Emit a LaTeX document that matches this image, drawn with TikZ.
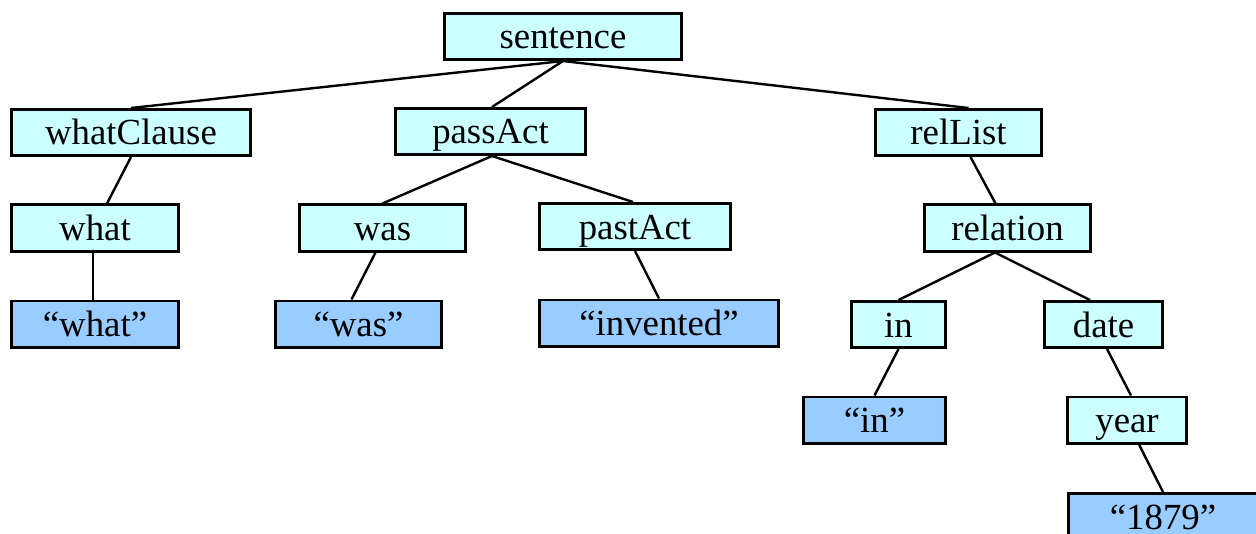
\documentclass[tikz,border=0pt]{standalone}
\usepackage{fontspec}
\setmainfont{Liberation Serif}
\begin{document}
\begin{tikzpicture}[x=0.5pt,y=-0.5pt,
  tbox/.style={draw=black, line width=1.4pt, rectangle, inner sep=0pt,
    minimum height=23.1pt, text height=12.5pt, text depth=0pt,
    font=\fontsize{18.4}{22}\selectfont},
  ntbox/.style={tbox, fill=cyanlight},
  lfbox/.style={tbox, fill=bluelight},
  edge/.style={draw=black, line width=1.2pt}]
\definecolor{cyanlight}{HTML}{CCFFFF}
\definecolor{bluelight}{HTML}{99CCFF}
\clip (0,0) rectangle (1256,534);
\useasboundingbox (0,0) rectangle (1256,534);
\fill[white] (0,0) rectangle (1256,534);
% nodes
\node[ntbox, minimum width=118.6pt] (sentence) at (563,36.5) {sentence};
\node[ntbox, minimum width=119.6pt] (whatClause) at (131,132.5) {whatClause};
\node[ntbox, minimum width=95.1pt] (passAct) at (490.5,131.5) {passAct};
\node[ntbox, minimum width=83.1pt] (relList) at (958.5,132.5) {relList};
\node[ntbox, minimum width=83.6pt] (what) at (95,228) {what};
\node[ntbox, minimum width=83.1pt] (was) at (382.5,228) {was};
\node[ntbox, minimum width=95.6pt] (pastAct) at (635,226.5) {pastAct};
\node[ntbox, minimum width=83.1pt] (relation) at (1007.5,228) {relation};
\node[lfbox, minimum width=83.6pt] (qwhat) at (95,324) {``what''};
\node[lfbox, minimum width=83.1pt] (qwas) at (358.5,324) {``was''};
\node[lfbox, minimum width=119.6pt] (qinvented) at (659,323) {``invented''};
\node[ntbox, minimum width=47.1pt] (in) at (898.5,324.5) {in};
\node[ntbox, minimum width=59.1pt] (date) at (1103.5,324.5) {date};
\node[lfbox, minimum width=71.1pt] (qin) at (874.5,420) {``in''};
\node[ntbox, minimum width=59.6pt] (year) at (1127,420) {year};
\node[lfbox, minimum width=94.6pt] (q1879) at (1163,516.5) {``1879''};
% edges
\draw[edge] (sentence.south) -- (whatClause.north);
\draw[edge] (sentence.south) -- ([xshift=0.75pt]passAct.north);
\draw[edge] (sentence.south) -- ([xshift=5pt]relList.north);
\draw[edge] (whatClause.south) -- ([xshift=6pt]what.north);
\draw[edge] ([xshift=-1pt]what.south) -- ([xshift=-1pt]qwhat.north);
\draw[edge] ([xshift=0.75pt]passAct.south) -- (was.north);
\draw[edge] ([xshift=0.75pt]passAct.south) -- ([xshift=-1pt]pastAct.north);
\draw[edge] ([xshift=-3.5pt]was.south) -- ([xshift=-3.5pt]qwas.north);
\draw[edge] (pastAct.south) -- (qinvented.north);
\draw[edge] ([xshift=6pt]relList.south) -- ([xshift=-6pt]relation.north);
\draw[edge] ([xshift=-6.25pt]relation.south) -- (in.north);
\draw[edge] ([xshift=-6.25pt]relation.south) -- ([xshift=-6.75pt]date.north);
\draw[edge] (in.south) -- (qin.north);
\draw[edge] ([xshift=1.75pt]date.south) -- ([xshift=2pt]year.north);
\draw[edge] ([xshift=6pt]year.south) -- (q1879.north);
\end{tikzpicture}
\end{document}
